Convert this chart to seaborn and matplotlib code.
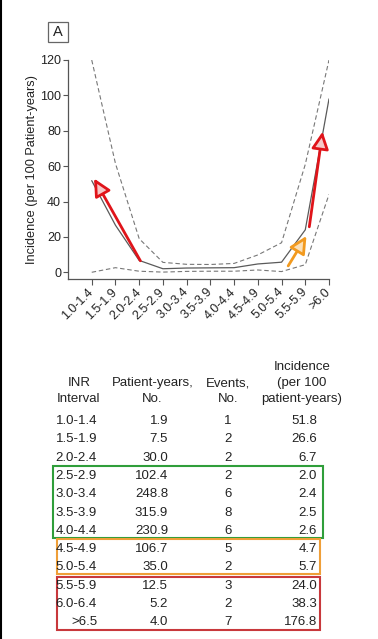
"""Warfarin INR interval vs incidence: chart plus table"""

import matplotlib
matplotlib.use("Agg")
import matplotlib.pyplot as plt
import seaborn as sns
from matplotlib.patches import Rectangle
from matplotlib.lines import Line2D

# chart data
inr_labels = ["1.0-1.4", "1.5-1.9", "2.0-2.4", "2.5-2.9", "3.0-3.4", "3.5-3.9",
              "4.0-4.4", "4.5-4.9", "5.0-5.4", "5.5-5.9", ">6.0"]
incidence = [51.8, 26.6, 6.7, 2.0, 2.4, 2.5, 2.6, 4.7, 5.7, 24.0, 98.0]
upper_ci = [120.0, 61.5, 19.0, 5.6, 4.5, 4.4, 5.0, 9.8, 16.7, 61.0, 120.0]
lower_ci = [0.0, 2.6, 0.6, 0.1, 0.5, 0.6, 0.6, 1.3, 0.4, 4.3, 44.0]

# table data
table_intervals = ["1.0-1.4", "1.5-1.9", "2.0-2.4", "2.5-2.9", "3.0-3.4", "3.5-3.9",
                   "4.0-4.4", "4.5-4.9", "5.0-5.4", "5.5-5.9", "6.0-6.4", ">6.5"]
patient_years = ["1.9", "7.5", "30.0", "102.4", "248.8", "315.9",
                 "230.9", "106.7", "35.0", "12.5", "5.2", "4.0"]
events = ["1", "2", "2", "2", "6", "8", "6", "5", "2", "3", "2", "7"]
table_incidence = ["51.8", "26.6", "6.7", "2.0", "2.4", "2.5",
                   "2.6", "4.7", "5.7", "24.0", "38.3", "176.8"]

sns.set_style("white")
plt.rcParams["font.family"] = ["Liberation Sans", "DejaVu Sans"]
TXT = "#222222"

W, H = 378, 639
fig = plt.figure(figsize=(W / 100, H / 100), dpi=100)


def fx(px):
    return px / W


def fy(py):
    return 1 - py / H


ax = fig.add_axes([fx(68), fy(279), fx(329 - 68), (279 - 60) / H])
pos = list(range(len(inr_labels)))
sns.lineplot(x=pos, y=incidence, ax=ax, color="#5a5a5a", lw=0.9)
sns.lineplot(x=pos, y=upper_ci, ax=ax, color="#777777", lw=0.8, linestyle=(0, (4, 2.5)))
sns.lineplot(x=pos, y=lower_ci, ax=ax, color="#777777", lw=0.8, linestyle=(0, (4, 2.5)))

ax.set_xlim(-1.0, 10)
ax.set_ylim(-3.8, 120)
ax.set_yticks([0, 20, 40, 60, 80, 100, 120])
ax.set_xticks(pos)
ax.set_xticklabels(inr_labels, rotation=45, ha="right", va="center",
                   rotation_mode="anchor", fontsize=9, color=TXT)
ax.tick_params(axis="y", labelsize=9, labelcolor=TXT, length=3.5, width=0.8,
               color="#555555", left=True, pad=1.5)
ax.tick_params(axis="x", length=4, width=0.8, color="#555555", bottom=True, pad=4)
ax.set_ylabel("Incidence (per 100 Patient-years)", fontsize=9.2, color=TXT)
ax.yaxis.set_label_coords(-0.115, 0.5)
for s in ["top", "right"]:
    ax.spines[s].set_visible(False)
for s in ["left", "bottom"]:
    ax.spines[s].set_color("#555555")
    ax.spines[s].set_linewidth(0.9)

# arrows
red = "#e0141a"
orange = "#f29a1f"
arrow_kw = dict(arrowstyle="-|>,head_length=0.8,head_width=0.4", lw=2.0,
                mutation_scale=13, shrinkA=0, shrinkB=0)
ax.annotate("", xy=(0.1, 53), xytext=(2.05, 6.5),
            arrowprops=dict(ec=red, fc="#f6c8c8", **arrow_kw))
ax.annotate("", xy=(9.73, 79.5), xytext=(9.17, 25.7),
            arrowprops=dict(ec=red, fc="#f6c8c8", **arrow_kw))
ax.annotate("", xy=(9.05, 20.5), xytext=(8.28, 3.6),
            arrowprops=dict(ec=orange, fc="#fbe0b8", **arrow_kw))

# panel label
fig.patches.append(Rectangle((fx(48), fy(42)), fx(20), 20 / H, transform=fig.transFigure,
                             fill=False, edgecolor="#666666", lw=0.9))
fig.text(fx(58), fy(32), "A", ha="center", va="center", fontsize=10.5, color=TXT)

# table headers
fs = 9.5
fig.text(fx(79), fy(383), "INR", ha="center", va="center", fontsize=fs, color=TXT)
fig.text(fx(79), fy(399), "Interval", ha="center", va="center", fontsize=fs, color=TXT)
fig.text(fx(153), fy(383), "Patient-years,", ha="center", va="center", fontsize=fs, color=TXT)
fig.text(fx(152), fy(399), "No.", ha="center", va="center", fontsize=fs, color=TXT)
fig.text(fx(228), fy(383), "Events,", ha="center", va="center", fontsize=fs, color=TXT)
fig.text(fx(228), fy(399), "No.", ha="center", va="center", fontsize=fs, color=TXT)
fig.text(fx(302), fy(367), "Incidence", ha="center", va="center", fontsize=fs, color=TXT)
fig.text(fx(302), fy(383), "(per 100", ha="center", va="center", fontsize=fs, color=TXT)
fig.text(fx(302), fy(399), "patient-years)", ha="center", va="center", fontsize=fs, color=TXT)

# table rows
row0, step = 421, 18.3
for i in range(len(table_intervals)):
    y = fy(row0 + i * step)
    fig.text(fx(97), y, table_intervals[i], ha="right", va="center", fontsize=fs, color=TXT)
    fig.text(fx(168), y, patient_years[i], ha="right", va="center", fontsize=fs, color=TXT)
    fig.text(fx(228), y, events[i], ha="center", va="center", fontsize=fs, color=TXT)
    fig.text(fx(317), y, table_incidence[i], ha="right", va="center", fontsize=fs, color=TXT)

# colored group boxes
for (x0, y0, x1, y1, c) in [(52.7, 465.7, 322.7, 537.7, "#2f9e3a"),
                            (56.7, 539.3, 320.0, 574.3, "#ef9f38"),
                            (56.7, 576.7, 319.5, 630.0, "#c8383c")]:
    fig.patches.append(Rectangle((fx(x0), fy(y1)), fx(x1 - x0), (y1 - y0) / H,
                                 transform=fig.transFigure, fill=False, edgecolor=c, lw=1.5))

# left border line
fig.lines.append(Line2D([0.002, 0.002], [0, 1], transform=fig.transFigure,
                        color="black", lw=1.5))

fig.savefig("out.png", dpi=100)
